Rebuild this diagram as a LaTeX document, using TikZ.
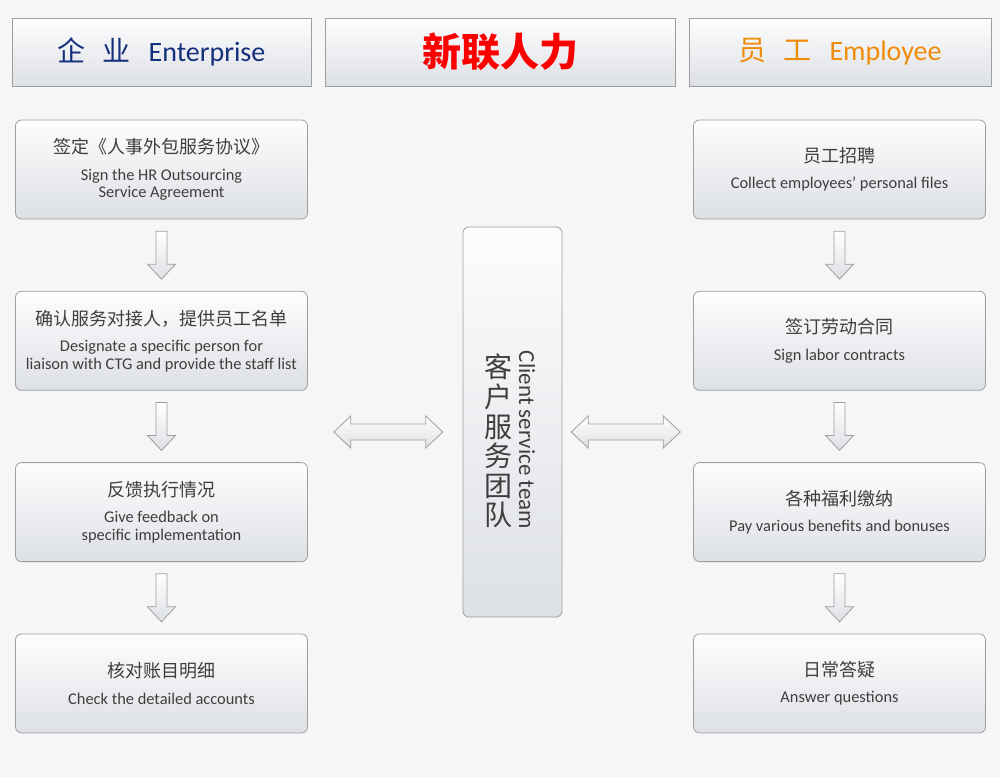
\documentclass[tikz,border=0pt]{standalone}
\usepackage{fontspec}
\setmainfont{Carlito}
\newfontfamily\cn{Noto Sans CJK SC}
\usetikzlibrary{positioning,calc}

\definecolor{bgcol}{RGB}{247,246,247}
\definecolor{boxtop}{RGB}{253,253,254}
\definecolor{boxbot}{RGB}{221,224,228}
\definecolor{boxline}{RGB}{158,158,160}
\definecolor{txtcol}{RGB}{62,62,62}
\definecolor{entblue}{RGB}{20,48,125}
\definecolor{emporange}{RGB}{240,140,10}
\definecolor{titlered}{RGB}{252,0,0}

\def\boxW{292pt}
\def\boxH{99pt}
\def\gapY{71.5pt}
\newcommand\boxtext[2]{{\cn\fontsize{18}{18}\selectfont #1}\\[9pt]#2}

\tikzset{head:style/.style={draw=boxline,line width=0.8pt,top color=boxtop,bottom color=boxbot,minimum height=68pt,inner sep=0pt}}
\tikzset{box:style/.style={draw=boxline,line width=0.8pt,top color=boxtop,bottom color=boxbot,rounded corners=6pt,minimum width=\boxW,minimum height=\boxH,inner sep=0pt,align=center,text=txtcol,font=\fontsize{16.4}{17.5}\selectfont}}
\tikzset{arrow:style/.style={draw=boxline,line width=0.8pt,top color=white,bottom color=boxbot}}
\tikzset{arrowdown/.pic={\path[arrow:style] (-5.5,-24) -- (5.5,-24) -- (5.5,9) -- (14,9) -- (0,24) -- (-14,9) -- (-5.5,9) -- cycle;}}
\tikzset{arrowboth/.pic={\path[arrow:style] (-54.5,0) -- (-37.5,-16) -- (-37.5,-8) -- (37.5,-8) -- (37.5,-16) -- (54.5,0) -- (37.5,16) -- (37.5,8) -- (-37.5,8) -- (-37.5,16) -- cycle;}}

\begin{document}
\begin{tikzpicture}[x=1pt,y=-1pt]

	\fill[bgcol] (0,0) rectangle (1000,777);

	% headings
	\path (161.5,52) node[head:style,minimum width=299pt] (hent)
		{\color{entblue}\fontsize{28}{30}\selectfont{\cn 企\hspace{0.6em}业}\hspace{0.65em}Enterprise};
	\path (500,52) node[head:style,minimum width=350pt] (hctg)
		{\color{titlered}\cn\bfseries\fontsize{39}{40}\selectfont 新联人力};
	\path (840,52) node[head:style,minimum width=302pt] (hemp)
		{\color{emporange}\fontsize{28}{30}\selectfont{\cn 员\hspace{0.6em}工}\hspace{0.65em}Employee};

	% enterprise side
	\path (161.5,169.5) node[box:style] (e1) {\boxtext{签定《人事外包服务协议》}{Sign the HR Outsourcing\\Service Agreement}};
	\node[box:style,below=\gapY of e1] (e2) {\boxtext{确认服务对接人，提供员工名单}{Designate a specific person for\\liaison with CTG and provide the staff list}};
	\node[box:style,below=\gapY of e2] (e3) {\boxtext{反馈执行情况}{Give feedback on\\specific implementation}};
	\node[box:style,below=\gapY of e3] (e4) {\boxtext{核对账目明细}{Check the detailed accounts}};

	% employee side
	\path (839.5,169.5) node[box:style] (p1) {\boxtext{员工招聘}{Collect employees’ personal files}};
	\node[box:style,below=\gapY of p1] (p2) {\boxtext{签订劳动合同}{Sign labor contracts}};
	\node[box:style,below=\gapY of p2] (p3) {\boxtext{各种福利缴纳}{Pay various benefits and bonuses}};
	\node[box:style,below=\gapY of p3] (p4) {\boxtext{日常答疑}{Answer questions}};

	% service team
	\path (512.5,422) node[box:style,minimum width=99pt,minimum height=390pt] (team) {};
	\node[text=txtcol,align=center,font=\cn\fontsize{28}{29.5}\selectfont] (teamcn)
		at ([xshift=-14.5pt,yshift=-19pt]team.center) {客\\户\\服\\务\\团\\队};
	\node[text=txtcol,rotate=-90,font=\fontsize{23}{25}\selectfont] (teamen)
		at ([xshift=14.5pt,yshift=-18pt]team.center) {Client service team};

	% arrows
	\pic at ($(e1.south)!0.5!(e2.north)$) {arrowdown};
	\pic at ($(e2.south)!0.5!(e3.north)$) {arrowdown};
	\pic at ($(e3.south)!0.5!(e4.north)$) {arrowdown};
	\pic at ($(p1.south)!0.5!(p2.north)$) {arrowdown};
	\pic at ($(p2.south)!0.5!(p3.north)$) {arrowdown};
	\pic at ($(p3.south)!0.5!(p4.north)$) {arrowdown};
	\pic[shift={(3,10)}] at ($(e1.east |- team.west)!0.5!(team.west)$) {arrowboth};
	\pic[shift={(-2,10)}] at ($(team.east)!0.5!(p1.west |- team.east)$) {arrowboth};

\end{tikzpicture}
\end{document}
